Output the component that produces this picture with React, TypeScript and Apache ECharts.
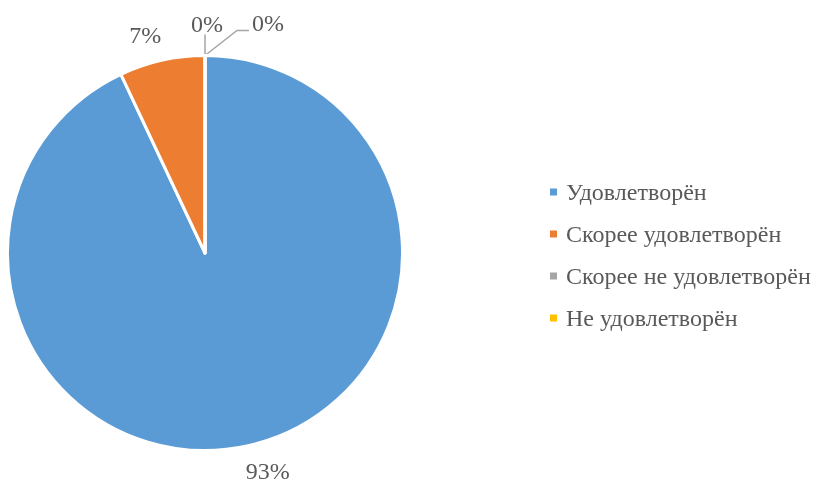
import React, { useEffect, useRef } from 'react';
import * as echarts from 'echarts';

const categories = ['Удовлетворён', 'Скорее удовлетворён', 'Скорее не удовлетворён', 'Не удовлетворён'];
const values = [93, 7, 0, 0];
const colors = ['#5B9BD5', '#ED7D31', '#A5A5A5', '#FFC000'];

export default function App() {
  const ref = useRef<HTMLDivElement>(null);
  useEffect(() => {
    const chart = echarts.init(ref.current!, null, { renderer: 'svg' });
    const font = '"Liberation Serif", "Times New Roman", serif';
    chart.setOption({
      animation: false,
      color: colors,
      legend: {
        orient: 'vertical',
        left: 550,
        top: 180,
        padding: 0,
        itemWidth: 7,
        itemHeight: 7,
        itemGap: 18,
        icon: 'rect',
        itemStyle: { borderWidth: 0 },
        data: categories,
        textStyle: { fontFamily: font, fontSize: 24, lineHeight: 24, color: '#595959', padding: [0, 0, 0, 4] },
      },
      series: [
        {
          type: 'pie',
          center: [205, 253],
          radius: 197.5,
          startAngle: 90,
          clockwise: true,
          avoidLabelOverlap: false,
          itemStyle: { borderColor: '#ffffff', borderWidth: 3 },
          label: {
            show: true,
            position: 'outside',
            formatter: (p: any) => Math.round(p.percent) + '%',
            fontFamily: font,
            fontSize: 24,
            lineHeight: 20,
            color: '#595959',
          },
          labelLine: { show: true, length: 26, length2: 0, lineStyle: { color: '#A5A5A5', width: 1.5 } },
          labelLayout: (p: any) => {
            const i = p.dataIndex;
            if (i === 0) return { align: 'center', dx: 9 };
            if (i === 1) return { align: 'center', dx: -6 };
            const a = p.labelLinePoints ? p.labelLinePoints[0] : [205, 55];
            if (i === 2)
              return {
                x: a[0] + 2,
                y: a[1] - 22,
                align: 'center',
                verticalAlign: 'bottom',
                labelLinePoints: [a, [a[0], a[1] - 21]],
              };
            return {
              x: a[0] + 47,
              y: a[1] - 33,
              align: 'left',
              verticalAlign: 'middle',
              labelLinePoints: [a, [a[0] + 32, a[1] - 25], [a[0] + 44, a[1] - 25]],
            };
          },
          data: categories.map((name, i) => ({
            name,
            value: values[i],
            labelLine: i < 2 ? { show: false } : undefined,
          })),
        },
      ],
    });
    return () => chart.dispose();
  }, []);
  return <div ref={ref} style={{ position: 'fixed', left: 0, top: 0, width: 816, height: 484 }} />;
}
